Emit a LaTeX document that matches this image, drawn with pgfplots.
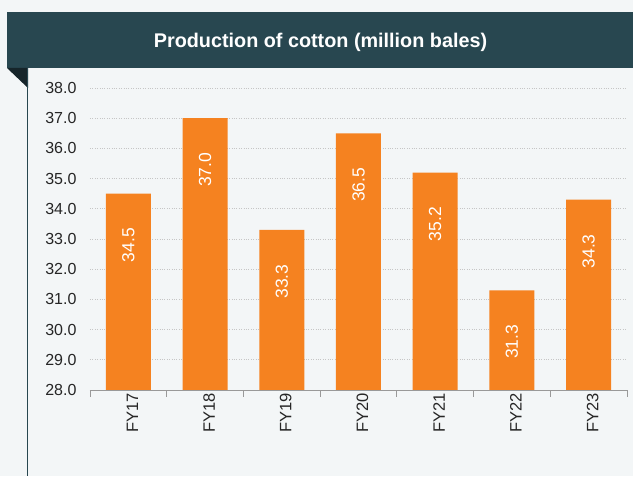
\documentclass[border=0pt]{standalone}
\usepackage{fontspec}
\setmainfont{Liberation Sans}
\usepackage{pgfplots}
\pgfplotsset{compat=1.18}
\definecolor{bg}{HTML}{F3F6F7}
\definecolor{banner}{HTML}{284750}
\definecolor{fold}{HTML}{16252A}
\definecolor{barc}{HTML}{F58220}
\begin{document}
\begin{tikzpicture}[x=1pt,y=1pt]
\fill[bg] (0,0) rectangle (633,476);
\fill[banner] (7,463.5) rectangle (633,408);
\fill[fold] (7,408) -- (28,408) -- (28,388) -- cycle;
\draw[banner, line width=1.5pt] (27.5,408) -- (27.5,0);
\node[white, font=\bfseries\fontsize{19.8}{23}\selectfont] at (320.5,433.5) {Production of cotton (million bales)};
\begin{axis}[
  at={(90pt,86pt)}, anchor=south west, scale only axis,
  width=537pt, height=302pt,
  xmin=-0.5, xmax=6.5, ymin=28, ymax=38,
  ytick={28,29,...,38},
  xtick={0,...,6},
  xticklabels={FY17,FY18,FY19,FY20,FY21,FY22,FY23},
  minor xtick={-0.5,0.5,...,6.5},
  xtick pos=bottom, ytick pos=left,
  tick align=outside,
  major tick length=0pt, minor tick length=7pt,
  minor x tick style={draw=gray!80, line width=0.8pt},
  ytick style={draw=none},
  axis line style={draw=none},
  ymajorgrids, major grid style={dotted, line width=0.6pt, gray!45},
  /pgf/number format/assume math mode=true,
  yticklabel={\pgfmathprintnumber[fixed,fixed zerofill,precision=1]{\tick}},
  yticklabel style={font=\fontsize{16}{18}\selectfont, text=black!85, xshift=-10pt},
  xticklabel style={font=\fontsize{16.5}{18}\selectfont, text=black!85, rotate=90, anchor=east, yshift=-4pt},
  clip=false,
]
\addplot[ybar, fill=barc, draw=none, bar width=45pt,
  nodes near coords={\pgfmathprintnumber[fixed,fixed zerofill,precision=1]{\pgfplotspointmeta}},
  every node near coord/.append style={white, font=\fontsize{17.5}{20}\selectfont, rotate=90, anchor=east, xshift=-31pt},
] coordinates {(0,34.5) (1,37.0) (2,33.3) (3,36.5) (4,35.2) (5,31.3) (6,34.3)};
\draw[gray!80, line width=0.8pt] (rel axis cs:0,0) -- (rel axis cs:1,0);
\end{axis}
\end{tikzpicture}
\end{document}
